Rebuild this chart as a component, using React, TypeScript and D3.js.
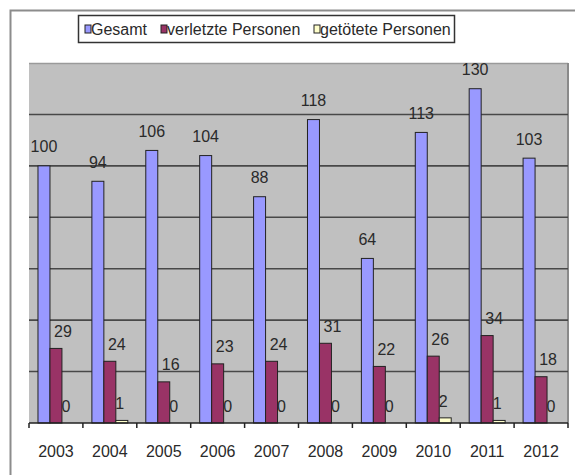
import React from "react";
import * as d3 from "d3";

const years = ["2003", "2004", "2005", "2006", "2007", "2008", "2009", "2010", "2011", "2012"];
const gesamt = [100, 94, 106, 104, 88, 118, 64, 113, 130, 103];
const verletzte = [29, 24, 16, 23, 24, 31, 22, 26, 34, 18];
const getoetete = [0, 1, 0, 0, 0, 0, 0, 2, 1, 0];
const seriesNames = ["Gesamt", "verletzte Personen", "getötete Personen"];
const seriesColors = ["#9999FF", "#993366", "#FFFFCC"];
const gridValues = [20, 40, 60, 80, 100, 120];

const W = 575;
const H = 475;
const plot = { left: 29, right: 568, top: 63, bottom: 423 };
const FONT = "'Liberation Sans', Arial, sans-serif";

export default function App() {
  const series = [gesamt, verletzte, getoetete];
  const x = d3.scaleBand<string>().domain(years).range([plot.left, plot.right]).padding(0);
  const y = d3.scaleLinear().domain([0, 140]).range([plot.bottom, plot.top]);
  const bw = x.bandwidth() / 4.5;
  const labelDx = [0, 7, -2];
  const labelDy = [13.5, 11.5, 11];

  const legendItems = [
    { x: 85, tx: 91 },
    { x: 161, tx: 167 },
    { x: 314, tx: 320 },
  ];

  return (
    <div style={{ position: "absolute", left: 0, top: 0 }}>
      <svg width={W} height={H} style={{ display: "block", background: "#fff" }}>
        {/* outer frame */}
        <rect x={10.5} y={10.5} width={W + 10} height={H + 10} fill="#fff" stroke="#8c8c8c" strokeWidth={2} />
        {/* legend */}
        <rect x={78.5} y={15.5} width={376} height={27} fill="#fff" stroke="#333" strokeWidth={1.5} />
        {seriesNames.map((n, i) => (
          <g key={n}>
            <rect x={legendItems[i].x} y={25} width={6} height={8} fill={seriesColors[i]} stroke="#222" strokeWidth={1} />
            <text x={legendItems[i].tx} y={35} fontFamily={FONT} fontSize={16} fill="#2a2a2a">
              {n}
            </text>
          </g>
        ))}
        {/* plot area */}
        <rect x={plot.left} y={plot.top} width={plot.right - plot.left} height={plot.bottom - plot.top} fill="#C0C0C0" />
        <line x1={plot.left} x2={plot.right} y1={plot.top + 0.5} y2={plot.top + 0.5} stroke="#9a9a9a" strokeWidth={1.5} />
        <line x1={plot.right} x2={plot.right} y1={plot.top} y2={plot.bottom} stroke="#8a8a8a" strokeWidth={2} />
        {gridValues.map((v) => (
          <line key={v} x1={plot.left} x2={plot.right} y1={y(v)} y2={y(v)} stroke="#484848" strokeWidth={1.6} />
        ))}
        {/* bars */}
        {years.map((yr, j) => (
          <g key={yr}>
            {series.map((s, i) => {
              const bx = (x(yr) as number) + 0.75 * bw + i * bw;
              const top = y(s[j]);
              return (
                <rect key={i} x={bx} y={top} width={bw} height={plot.bottom - top} fill={seriesColors[i]} stroke="#222" strokeWidth={1} />
              );
            })}
          </g>
        ))}
        {/* axis */}
        <line x1={plot.left} x2={plot.right} y1={plot.bottom} y2={plot.bottom} stroke="#222" strokeWidth={1.5} />
        {[...years.map((yr) => x(yr) as number), plot.right].map((t, k) => (
          <line key={k} x1={t} x2={t} y1={plot.bottom} y2={plot.bottom + 5} stroke="#222" strokeWidth={1.5} />
        ))}
        {years.map((yr) => (
          <text key={yr} x={(x(yr) as number) + x.bandwidth() / 2} y={457} textAnchor="middle" fontFamily={FONT} fontSize={16} fill="#2a2a2a">
            {yr}
          </text>
        ))}
        {/* value labels */}
        {years.map((yr, j) => (
          <g key={"l" + yr}>
            {series.map((s, i) => {
              const cx = (x(yr) as number) + 0.75 * bw + i * bw + bw / 2 + labelDx[i];
              return (
                <text key={i} x={cx} y={y(s[j]) - labelDy[i]} textAnchor="middle" fontFamily={FONT} fontSize={16} fill="#2a2a2a">
                  {s[j]}
                </text>
              );
            })}
          </g>
        ))}
      </svg>
    </div>
  );
}
